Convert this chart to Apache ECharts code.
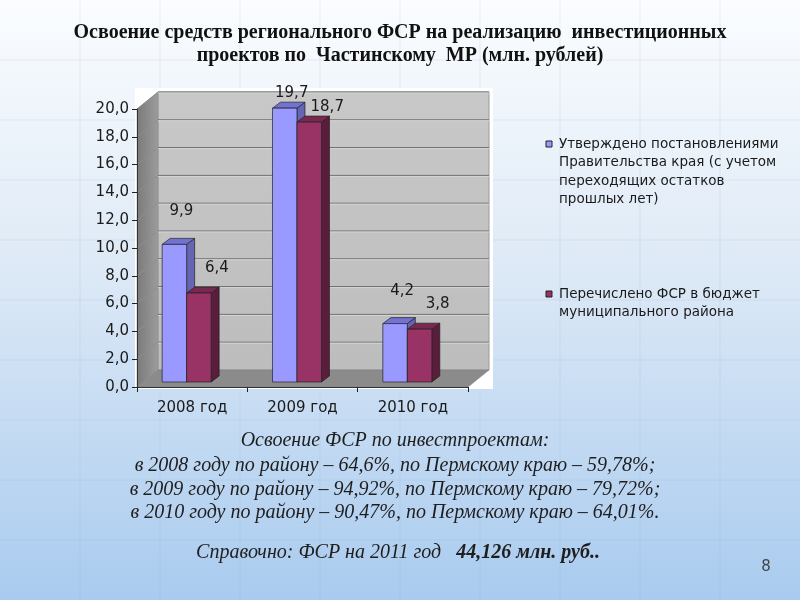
<!DOCTYPE html>
<html>
<head>
<meta charset="utf-8">
<script src="https://cdn.jsdelivr.net/npm/echarts@6/dist/echarts.min.js"></script>
<style>
  html, body { margin: 0; padding: 0; }
  #chart { width: 800px; height: 600px; }
</style>
</head>
<body>
<div id="chart"></div>
<script>
// данные слайда
var years = ['2008 год', '2009 год', '2010 год'];
var approved = [9.9, 19.7, 4.2];      // утверждено
var transferred = [6.4, 18.7, 3.8];   // перечислено
var seriesNames = [
  'Утверждено постановлениями Правительства края (с учетом переходящих остатков прошлых лет)',
  'Перечислено ФСР в бюджет муниципального района'
];
var legendLines = [
  ['Утверждено постановлениями', 'Правительства края (с учетом', 'переходящих остатков', 'прошлых лет)'],
  ['Перечислено ФСР в бюджет', 'муниципального района']
];
var yMin = 0, yMax = 20, yStep = 2;
var titleText = 'Освоение средств регионального ФСР на реализацию  инвестиционных\nпроектов по  Частинскому  МР (млн. рублей)';
var notes = [
  'Освоение ФСР по инвестпроектам:',
  'в 2008 году по району – 64,6%, по Пермскому краю – 59,78%;',
  'в 2009 году по району – 94,92%, по Пермскому краю – 79,72%;',
  'в 2010 году по району – 90,47%, по Пермскому краю – 64,01%.'
];
var refNote = 'Справочно: ФСР на 2011 год   ';
var refValue = '44,126 млн. руб..';

var colors = [
  { front: '#9999ff', top: '#7272d2', side: '#6565b4' },
  { front: '#993366', top: '#7a2852', side: '#5a1d3b' }
];

var DX = 21, DY = -17;   // глубина стенок
var BDX = 8, BDY = -6;   // глубина столбика
var LIFT = 5;

function fmt(v) { return v.toFixed(1).replace('.', ','); }

var chart = echarts.init(document.getElementById('chart'));

function wallsItem(params, api) {
  var cs = params.coordSys;
  var xl = cs.x, xr = cs.x + cs.width;
  var y0 = api.coord([0, yMin])[1];
  var y1 = api.coord([0, yMax])[1];
  var kids = [];
  kids.push({ type: 'rect', shape: { x: xl - 2, y: y1 + DY - 4, width: xr - xl + DX + 6, height: y0 - y1 - DY + 6 },
    style: { fill: '#ffffff' } });
  kids.push({ type: 'rect', shape: { x: xl + DX, y: y1 + DY, width: xr - xl, height: y0 - y1 },
    style: { fill: new echarts.graphic.LinearGradient(0, 0, 0, 1, [
      { offset: 0, color: '#c8c8c8' }, { offset: 1, color: '#bdbdbd' }]), stroke: '#9a9a9a', lineWidth: 1 } });
  kids.push({ type: 'polygon', shape: { points: [[xl, y1], [xl + DX, y1 + DY], [xl + DX, y0 + DY], [xl, y0]] },
    style: { fill: new echarts.graphic.LinearGradient(0, 0, 1, 0, [
      { offset: 0, color: '#7a7a7a' }, { offset: 1, color: '#9c9c9c' }]), stroke: '#8a8a8a', lineWidth: 0.5 } });
  kids.push({ type: 'polygon', shape: { points: [[xl, y0], [xr, y0], [xr + DX, y0 + DY], [xl + DX, y0 + DY]] },
    style: { fill: '#8b8b8b', stroke: '#7a7a7a', lineWidth: 0.5 } });
  for (var v = yMin + yStep; v <= yMax; v += yStep) {
    var y = api.coord([0, v])[1];
    kids.push({ type: 'line', shape: { x1: xl + DX, y1: y + DY, x2: xr + DX, y2: y + DY },
      style: { stroke: '#6a6a6a', lineWidth: 1 } });
    kids.push({ type: 'line', shape: { x1: xl + DX, y1: y + DY + 1, x2: xr + DX, y2: y + DY + 1 },
      style: { stroke: '#d6d6d6', lineWidth: 1 } });
    kids.push({ type: 'line', shape: { x1: xl, y1: y, x2: xl + DX, y2: y + DY },
      style: { stroke: '#8f8f8f', lineWidth: 1 } });
  }
  return { type: 'group', children: kids };
}

function barItem(si, minOff, dyLab, dxLab) {
  return function (params, api) {
    var ci = api.value(0), v = api.value(1);
    var base = api.coord([ci, 0]);
    var top = api.coord([ci, v]);
    var band = api.size([1, 0])[0];
    var w = band * 0.222;
    var x0 = base[0] - band * 0.05 - w + si * w;
    var yb = base[1] - LIFT, yt = top[1] - LIFT;
    var c = colors[si];
    var ly = Math.max(yt - dyLab, params.coordSys.y - minOff);
    return {
      type: 'group',
      children: [
        { type: 'polygon', shape: { points: [[x0 + w, yt], [x0 + w + BDX, yt + BDY], [x0 + w + BDX, yb + BDY], [x0 + w, yb]] },
          style: { fill: c.side, stroke: '#222', lineWidth: 0.7 } },
        { type: 'polygon', shape: { points: [[x0, yt], [x0 + BDX, yt + BDY], [x0 + w + BDX, yt + BDY], [x0 + w, yt]] },
          style: { fill: c.top, stroke: '#222', lineWidth: 0.7 } },
        { type: 'rect', shape: { x: x0, y: yt, width: w, height: yb - yt },
          style: { fill: c.front, stroke: '#222', lineWidth: 0.7 } },
        { type: 'text', x: x0 + w / 2 + dxLab, y: ly,
          style: { text: fmt(v), fill: '#1a1a1a', font: '15px "DejaVu Sans"', align: 'center', verticalAlign: 'middle' } }
      ]
    };
  };
}

function toData(arr) { return arr.map(function (v, i) { return [i, v]; }); }

var graphics = [];
// подписи под диаграммой
notes.forEach(function (t, i) {
  graphics.push({ type: 'text', x: 395, y: [441, 466, 490, 513][i], z: 10,
    style: { text: t, fill: '#1e1e1e', font: 'italic 20px "Liberation Serif"', align: 'center', verticalAlign: 'middle' } });
});
graphics.push({ type: 'text', x: 398, y: 553, z: 10,
  style: { text: '{n|' + refNote + '}{b|' + refValue + '}', align: 'center', verticalAlign: 'middle',
    rich: { n: { font: 'italic 20px "Liberation Serif"', fill: '#1e1e1e' },
            b: { font: 'italic bold 20px "Liberation Serif"', fill: '#1e1e1e' } } } });
graphics.push({ type: 'text', x: 766, y: 567, z: 10,
  style: { text: '8', fill: '#444', font: '15px "DejaVu Sans"', align: 'center', verticalAlign: 'middle' } });
// легенда
[144, 294].forEach(function (yy, i) {
  graphics.push({ type: 'rect', shape: { x: 546, y: yy - 3, width: 6, height: 6 }, z: 10,
    style: { fill: colors[i].front, stroke: '#222', lineWidth: 1 } });
  graphics.push({ type: 'text', x: 559, y: yy - 9, z: 10,
    style: { text: legendLines[i].join('\n'), fill: '#1a1a1a', font: '13.5px "DejaVu Sans"', lineHeight: 18.5, verticalAlign: 'top' } });
});
// сетка фона слайда
for (var gx = 80; gx < 800; gx += 80) {
  graphics.push({ type: 'line', shape: { x1: gx, y1: 0, x2: gx, y2: 600 }, z: -5, silent: true,
    style: { stroke: 'rgba(140,175,215,0.18)', lineWidth: 1 } });
}
for (var gy = 60; gy < 600; gy += 60) {
  graphics.push({ type: 'line', shape: { x1: 0, y1: gy, x2: 800, y2: gy }, z: -5, silent: true,
    style: { stroke: 'rgba(140,175,215,0.18)', lineWidth: 1 } });
}

var option = {
  animation: false,
  backgroundColor: new echarts.graphic.LinearGradient(0, 0, 0, 1, [
    { offset: 0, color: '#fbfdff' }, { offset: 0.45, color: '#dde9f6' }, { offset: 1, color: '#a9cbef' }]),
  title: {
    text: titleText, left: 'center', top: 16,
    textStyle: { fontFamily: 'Liberation Serif', fontWeight: 'bold', fontSize: 20, lineHeight: 23, color: '#111' }
  },
  grid: { left: 137, right: 332, top: 109, bottom: 213 },
  xAxis: {
    type: 'category', data: years, z: 5,
    axisLine: { lineStyle: { color: '#333', width: 1 } },
    axisTick: { show: true, length: 5, lineStyle: { color: '#222' } },
    axisLabel: { fontFamily: 'DejaVu Sans', fontSize: 15, color: '#1a1a1a', margin: 14 },
    splitLine: { show: false }
  },
  yAxis: {
    type: 'value', min: yMin, max: yMax, interval: yStep, z: 5,
    axisLine: { show: true, lineStyle: { color: '#333', width: 1 } },
    axisTick: { show: true, length: 5, lineStyle: { color: '#222' } },
    axisLabel: { fontFamily: 'DejaVu Sans', fontSize: 15, color: '#1a1a1a', margin: 8, formatter: fmt },
    splitLine: { show: false }
  },
  graphic: graphics,
  series: [
    { type: 'custom', name: 'walls', z: 1, silent: true, renderItem: wallsItem, data: [[0, 0]] },
    { type: 'custom', name: seriesNames[0], z: 3, renderItem: barItem(0, 16, 33, 7), data: toData(approved) },
    { type: 'custom', name: seriesNames[1], z: 3, renderItem: barItem(1, 2, 25, 18), data: toData(transferred) }
  ]
};
chart.setOption(option);
</script>
</body>
</html>
